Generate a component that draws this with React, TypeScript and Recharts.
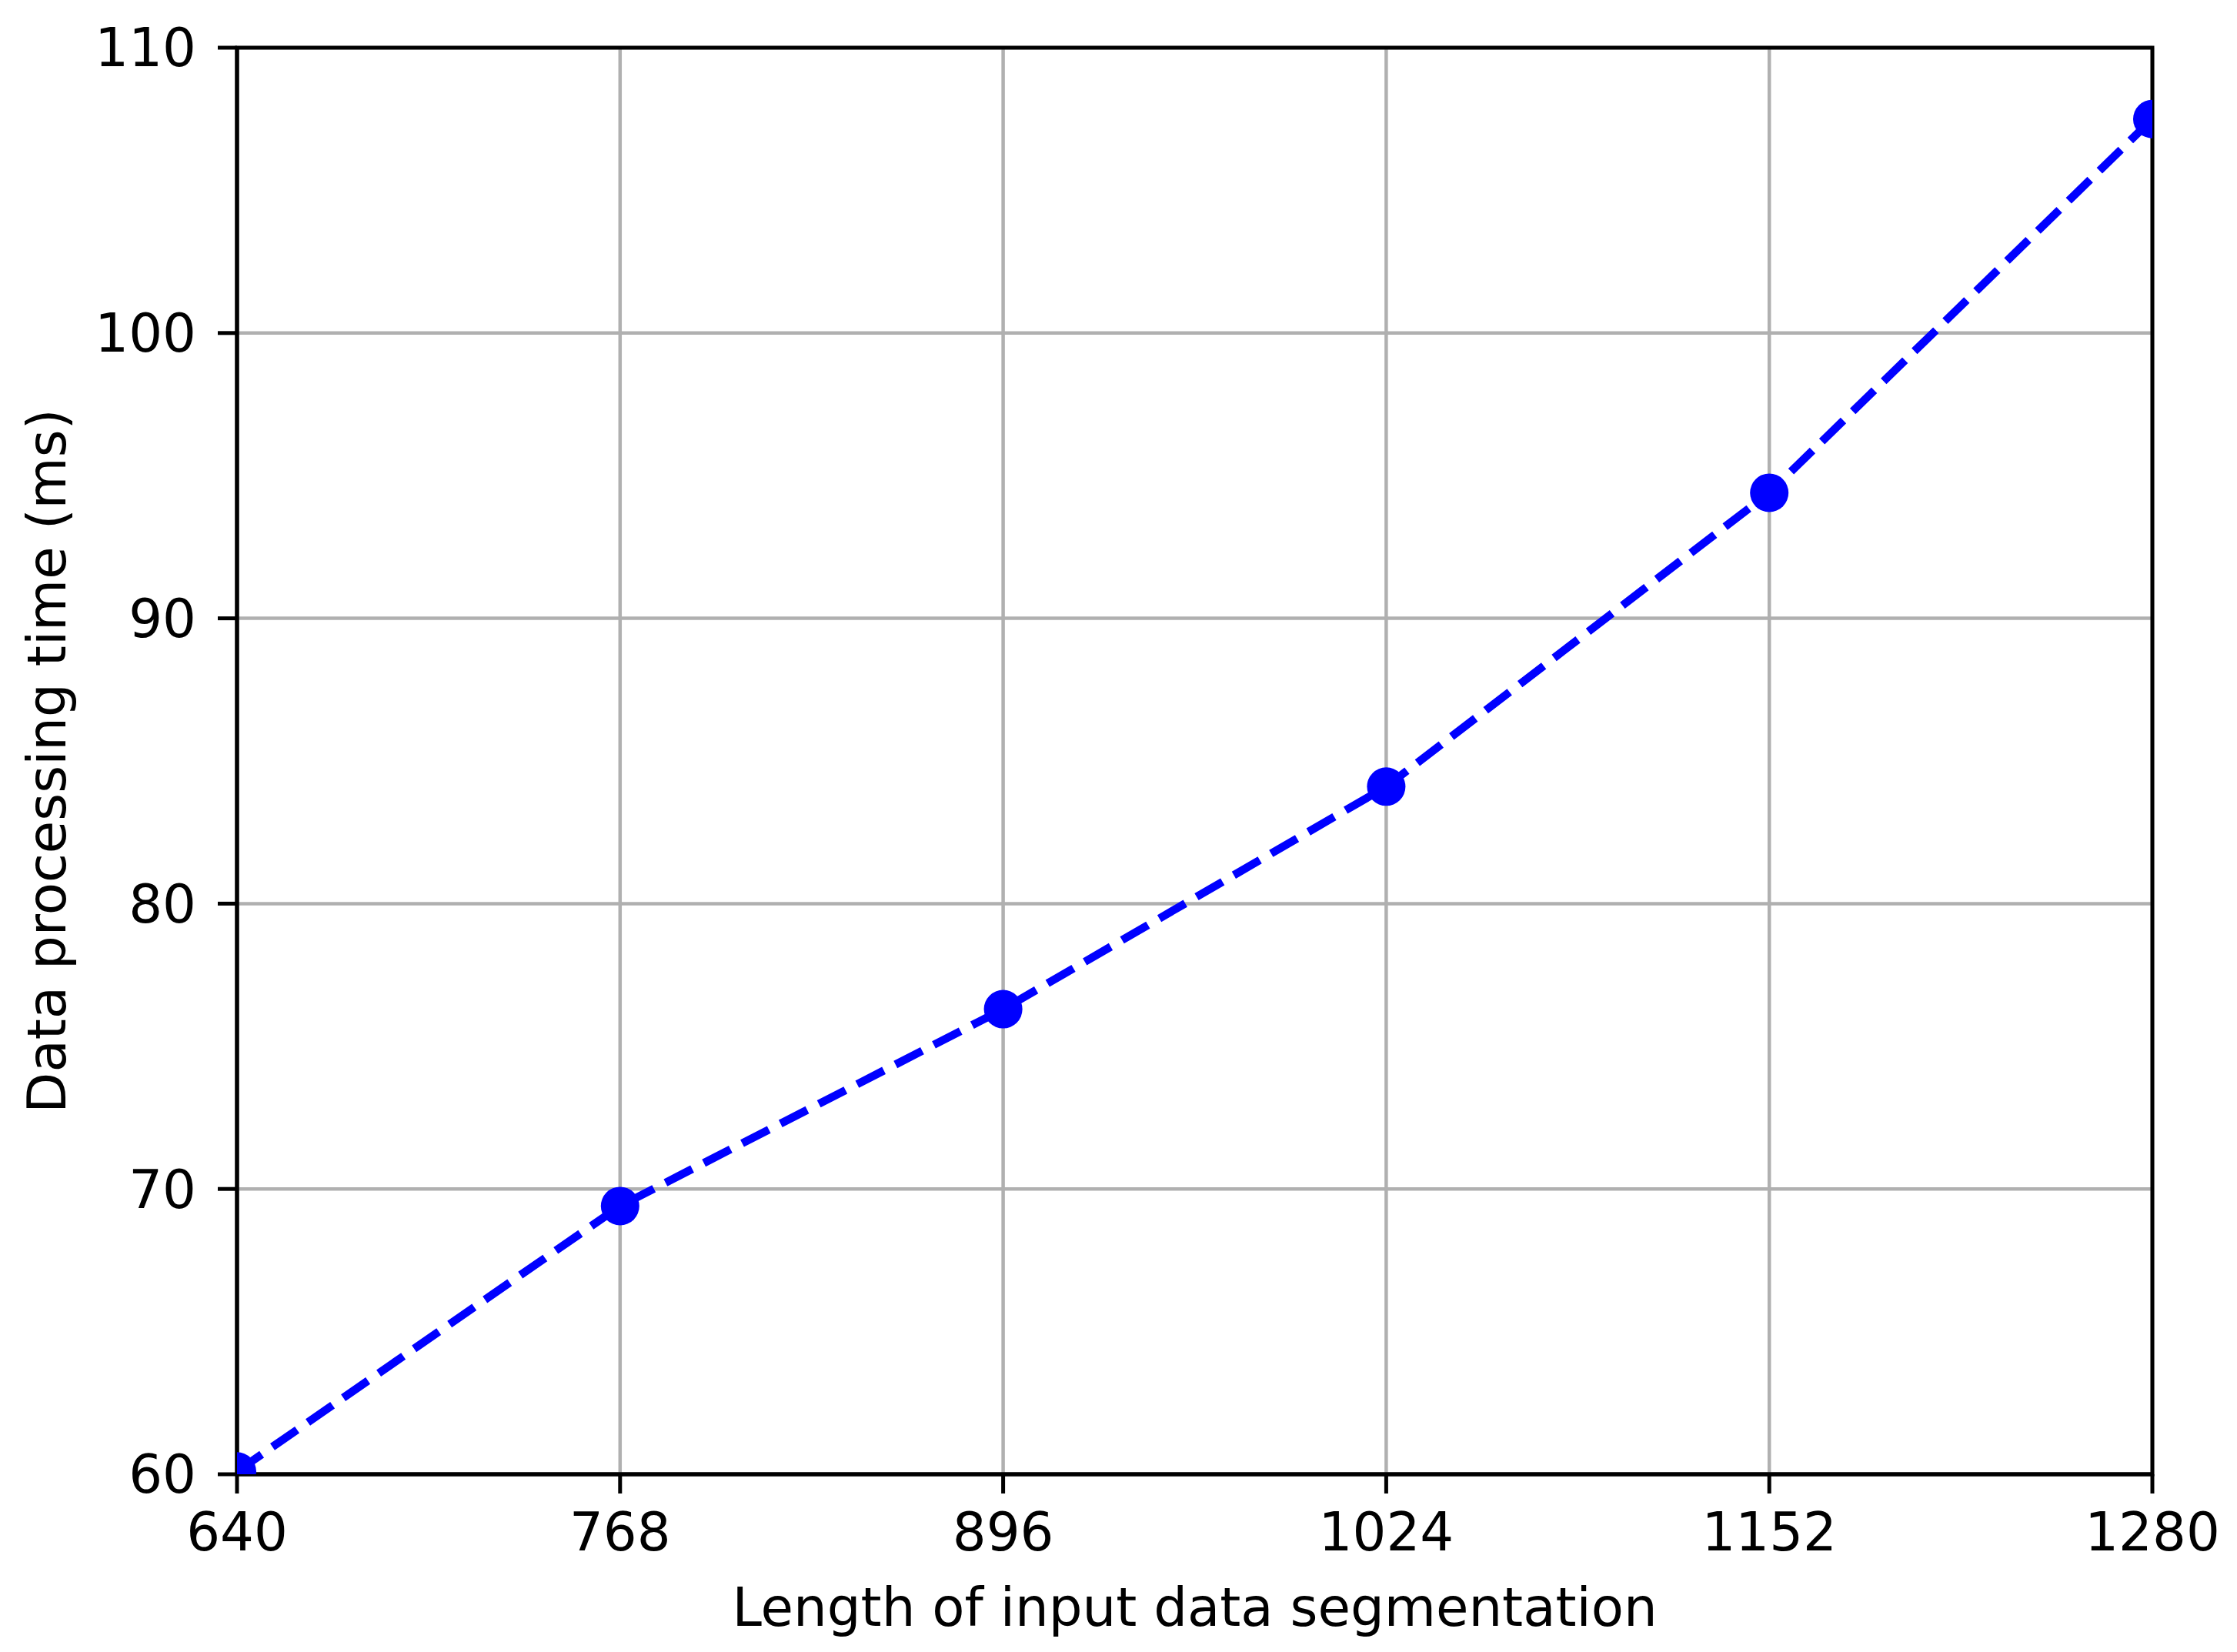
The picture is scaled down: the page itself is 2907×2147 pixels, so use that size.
import {
  LineChart,
  Line,
  XAxis,
  YAxis,
  CartesianGrid,
  ReferenceArea,
} from "recharts";

const segmentLengths = [640, 768, 896, 1024, 1152, 1280];
const processingTimes = [60.1, 69.4, 76.3, 84.1, 94.4, 107.5];
const xTicks = [640, 768, 896, 1024, 1152, 1280];
const yTicks = [60, 70, 80, 90, 100, 110];

const data = segmentLengths.map((len, i) => ({
  len,
  time: processingTimes[i],
}));

const FONT = "DejaVu Sans";
const FS = 69;
const tickStyle = { fill: "#000", fontSize: FS, fontFamily: FONT };
const lineStyle = { stroke: "#000", strokeWidth: 5 };

export default function App() {
  return (
    <div
      style={{
        position: "absolute",
        left: 0,
        top: 0,
        width: 2907,
        height: 2147,
        background: "#fff",
      }}
    >
      <LineChart
        width={2907}
        height={2147}
        data={data}
        margin={{ top: 62, right: 110, bottom: 29, left: 0 }}
      >
        <CartesianGrid stroke="#b0b0b0" strokeWidth={4.5} />
        <XAxis
          dataKey="len"
          type="number"
          domain={[640, 1280]}
          ticks={xTicks}
          allowDataOverflow
          height={202}
          tickSize={25}
          tickMargin={25}
          axisLine={lineStyle}
          tickLine={lineStyle}
          tick={tickStyle}
          label={{
            value: "Length of input data segmentation",
            position: "insideBottom",
            offset: 5,
            style: { fill: "#000", fontSize: FS, fontFamily: FONT },
          }}
        />
        <YAxis
          type="number"
          domain={[60, 110]}
          ticks={yTicks}
          allowDataOverflow
          width={308}
          tickSize={25}
          tickMargin={28}
          axisLine={lineStyle}
          tickLine={lineStyle}
          tick={tickStyle}
          label={{
            value: "Data processing time (ms)",
            angle: -90,
            position: "insideLeft",
            offset: 61,
            style: {
              fill: "#000",
              fontSize: FS,
              fontFamily: FONT,
              textAnchor: "middle",
            },
          }}
        />
        <Line
          type="linear"
          dataKey="time"
          stroke="#0000ff"
          strokeWidth={10.5}
          strokeDasharray="39 17"
          dot={{ r: 25, fill: "#0000ff", stroke: "none", strokeWidth: 0 }}
          activeDot={false}
          isAnimationActive={false}
        />
        <ReferenceArea
          x1={640}
          x2={1280}
          y1={60}
          y2={110}
          fill="none"
          fillOpacity={0}
          stroke="#000"
          strokeWidth={5}
          strokeOpacity={1}
        />
      </LineChart>
    </div>
  );
}
